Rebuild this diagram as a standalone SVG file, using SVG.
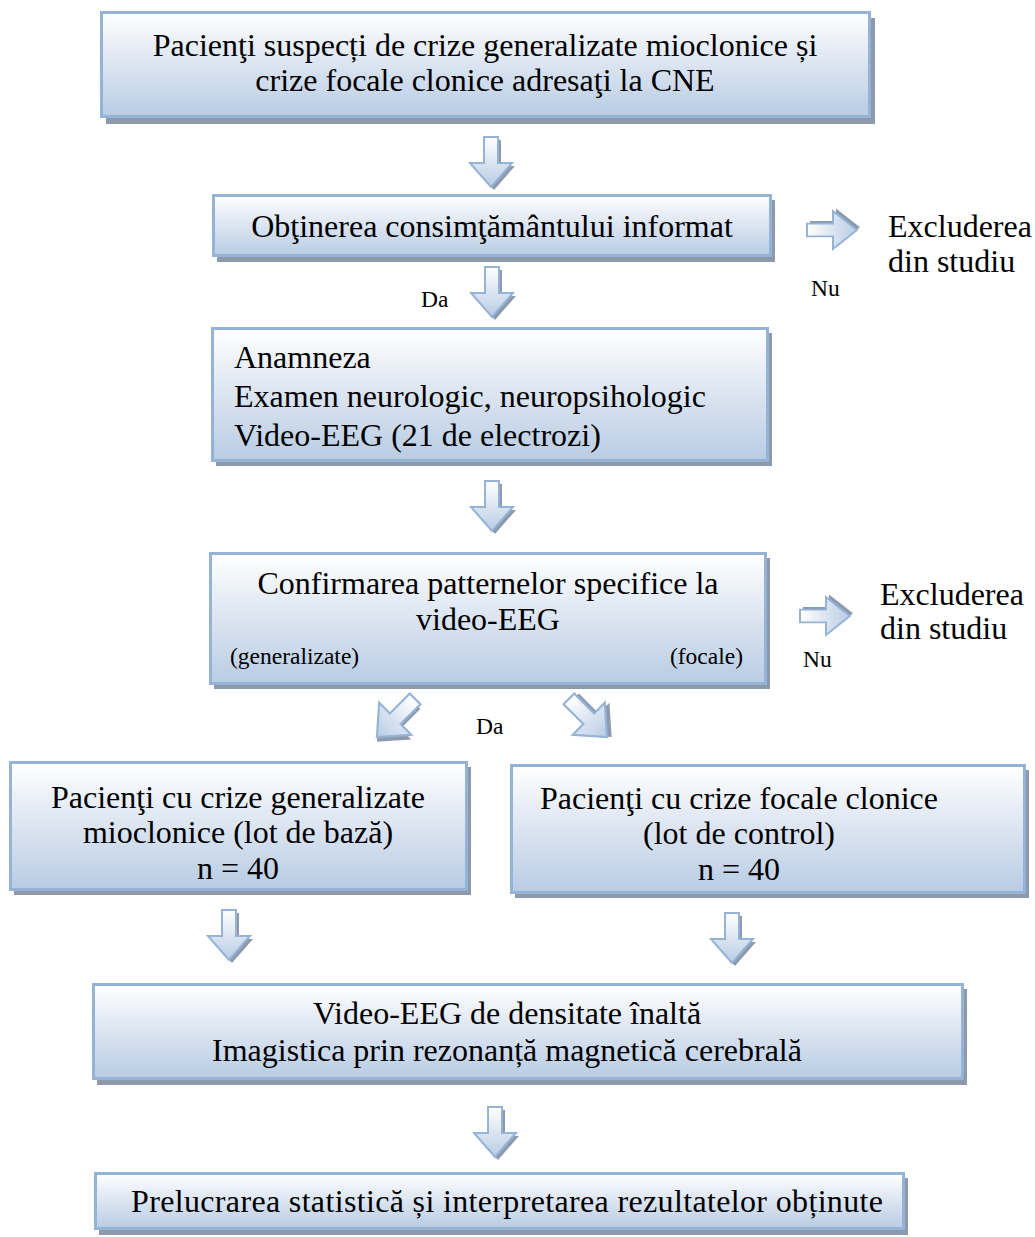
<svg xmlns="http://www.w3.org/2000/svg" xmlns:xlink="http://www.w3.org/1999/xlink" width="1035" height="1237" viewBox="0 0 1035 1237">
<defs>
<linearGradient id="boxg" x1="0" y1="0" x2="0" y2="1">
<stop offset="0" stop-color="#ffffff"/>
<stop offset="0.45" stop-color="#dfe7f2"/>
<stop offset="1" stop-color="#b8cce4"/>
</linearGradient>
<linearGradient id="arrg" x1="0" y1="0" x2="0" y2="1">
<stop offset="0" stop-color="#ffffff"/>
<stop offset="1" stop-color="#b8cce4"/>
</linearGradient>
<g id="arrow">
<path d="M-7,-25 H7 V1 H21 L0,25 L-21,1 H-7 Z" transform="translate(3,3)" fill="#8e9aab"/>
<path d="M-7,-25 H7 V1 H21 L0,25 L-21,1 H-7 Z" fill="url(#arrg)" stroke="#95b3d7" stroke-width="2" stroke-linejoin="miter"/>
</g>
</defs>
<style>
.box{fill:url(#boxg);stroke:#95b3d7;stroke-width:3}
.sh{fill:#8e9aab}
text{font-family:"Liberation Serif","Times New Roman",serif;fill:#000}
.m{font-size:32px}
.s{font-size:23.5px}
.c{text-anchor:middle}
</style>
<rect width="1035" height="1237" fill="#ffffff"/>

<g id="connectors">
<use xlink:href="#arrow" transform="translate(491,162)"/>
<use xlink:href="#arrow" transform="translate(492,292)"/>
<use xlink:href="#arrow" transform="translate(492,506)"/>
<use xlink:href="#arrow" transform="translate(396,718) rotate(45) scale(1.08)"/>
<use xlink:href="#arrow" transform="translate(588,718) rotate(-45) scale(1.08)"/>
<use xlink:href="#arrow" transform="translate(229,935)"/>
<use xlink:href="#arrow" transform="translate(732,938)"/>
<use xlink:href="#arrow" transform="translate(495,1132)"/>
<use xlink:href="#arrow" transform="translate(832,230) rotate(-90) scale(0.9,1)"/>
<use xlink:href="#arrow" transform="translate(825,616) rotate(-90) scale(0.9,1)"/>
<text class="s" x="421" y="307">Da</text>
<text class="s" x="811" y="296">Nu</text>
<text class="s" x="476" y="734">Da</text>
<text class="s" x="803" y="667">Nu</text>
</g>

<g id="n1">
<rect class="sh" x="106" y="18" width="769" height="106"/>
<rect class="box" x="101.5" y="12.5" width="768" height="104"/>
<text class="m c" x="485" y="56">Pacienţi suspecți de crize generalizate mioclonice și</text>
<text class="m c" x="485" y="91">crize focale clonice adresaţi la CNE</text>
</g>

<g id="n2">
<rect class="sh" x="217" y="200" width="558" height="62"/>
<rect class="box" x="213.5" y="195.5" width="557" height="60"/>
<text class="m c" x="492" y="237">Obţinerea consimţământului informat</text>
</g>

<g id="e1">
<text class="m" x="888" y="237">Excluderea</text>
<text class="m" x="888" y="272">din studiu</text>
</g>

<g id="n3">
<rect class="sh" x="216" y="333" width="556" height="133"/>
<rect class="box" x="212.5" y="328.5" width="555" height="132"/>
<text class="m" x="234" y="368">Anamneza</text>
<text class="m" x="234" y="407">Examen neurologic, neuropsihologic</text>
<text class="m" x="234" y="446">Video-EEG (21 de electrozi)</text>
</g>

<g id="n4">
<rect class="sh" x="214" y="558" width="556" height="131"/>
<rect class="box" x="210.5" y="553.5" width="555" height="130"/>
<text class="m c" x="488" y="594">Confirmarea patternelor specifice la</text>
<text class="m c" x="488" y="630">video-EEG</text>
<text class="s" x="230" y="664">(generalizate)</text>
<text class="s" x="743" y="664" text-anchor="end">(focale)</text>
</g>

<g id="e2">
<text class="m" x="880" y="605">Excluderea</text>
<text class="m" x="880" y="639">din studiu</text>
</g>

<g id="n5">
<rect class="sh" x="14" y="767" width="457" height="128"/>
<rect class="box" x="10.5" y="762.5" width="456" height="127"/>
<text class="m c" x="238" y="808">Pacienţi cu crize generalizate</text>
<text class="m c" x="238" y="843">mioclonice (lot de bază)</text>
<text class="m c" x="238" y="879">n = 40</text>
</g>

<g id="n6">
<rect class="sh" x="515" y="770" width="514" height="128"/>
<rect class="box" x="511.5" y="765.5" width="513" height="127"/>
<text class="m c" x="739" y="809">Pacienţi cu crize focale clonice</text>
<text class="m c" x="739" y="844">(lot de control)</text>
<text class="m c" x="739" y="880">n = 40</text>
</g>

<g id="n7">
<rect class="sh" x="97" y="989" width="870" height="96"/>
<rect class="box" x="93.5" y="984.5" width="869" height="94"/>
<text class="m c" x="507" y="1024">Video-EEG de densitate înaltă</text>
<text class="m c" x="507" y="1061">Imagistica prin rezonanță magnetică cerebrală</text>
</g>

<g id="n8">
<rect class="sh" x="99" y="1178" width="809" height="57"/>
<rect class="box" x="95.5" y="1173.5" width="808" height="55"/>
<text class="m c" x="507" y="1212" textLength="752" lengthAdjust="spacing">Prelucrarea statistică și interpretarea rezultatelor obținute</text>
</g>
</svg>
